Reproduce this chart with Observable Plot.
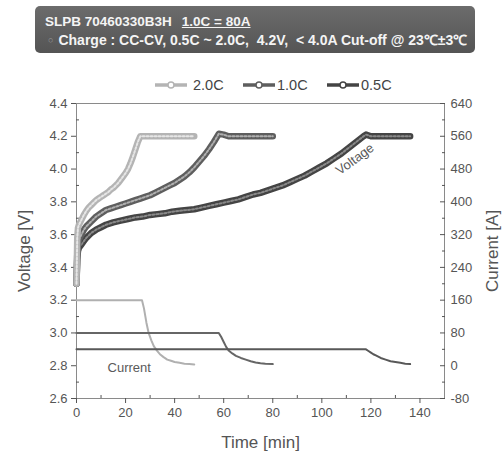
<!DOCTYPE html>
<html><head><meta charset="utf-8">
<script src="https://cdn.jsdelivr.net/npm/d3@7"></script>
<script src="https://cdn.jsdelivr.net/npm/@observablehq/plot@0.6"></script>
<style>
body{margin:0;background:#fff;font-family:"Liberation Sans",Arial,sans-serif;width:502px;height:455px;overflow:hidden;position:relative}
#title{position:absolute;left:35px;top:6px;width:440px;height:47px;border-radius:5px;background:linear-gradient(#6c6c6c,#545454);color:#f4f4f4;box-sizing:border-box;font-weight:bold}
#l1{position:absolute;left:10px;top:8px;font-size:13.5px;white-space:pre}
#l1 u{margin-left:10px}
#l2{position:absolute;left:13px;top:24px;font-size:14px;white-space:pre}
#l2 .b{color:#999;font-size:9px;margin-right:5px;vertical-align:2px}
#legend{position:absolute;top:76px;left:0;width:502px;height:18px;font-size:14.5px;color:#444}
.li{position:absolute;top:0;display:flex;align-items:center;height:18px}
#chart{position:absolute;top:95px;left:0}
</style></head>
<body>
<div id="title"><div id="l1"></div><div id="l2"></div></div>
<div id="legend"></div>
<div id="chart"></div>
<script>
// ---- data ----
const titleModel = "SLPB 70460330B3H";
const titleRate = "1.0C = 80A";
const subtitle = "Charge : CC-CV, 0.5C ~ 2.0C,  4.2V,  < 4.0A Cut-off @ 23℃±3℃";
const seriesNames = ["2.0C", "1.0C", "0.5C"];
const seriesColors = ["#b4b4b4", "#5e5e5e", "#444444"];
const seriesInner = ["#e6e6e6", "#b0b0b0", "#8a8a8a"];
const currentColors = ["#b0b0b0", "#666666", "#585858"];

// voltage curves (time [min], voltage [V])
const t20 = [0,0.3,0.6,1,2,3,4,5,6,7,8,9,10,11,12,13,14,15,16,17,18,19,20,21,22,23,24,25,26,27,30,33,36,39,42,45,48];
const v20 = [3.30,3.58,3.64,3.66,3.69,3.72,3.745,3.765,3.78,3.795,3.81,3.82,3.83,3.84,3.85,3.86,3.875,3.885,3.90,3.915,3.935,3.955,3.975,4.00,4.035,4.075,4.12,4.165,4.20,4.20,4.20,4.20,4.20,4.20,4.20,4.20,4.20];
const t10 = [0,0.3,0.6,1,2,3,4,6,8,10,12,14,16,18,20,22,24,26,28,30,32,34,36,38,40,42,44,46,48,50,52,54,56,58,60,62,65,68,71,74,77,80];
const v10 = [3.30,3.48,3.54,3.57,3.60,3.63,3.65,3.68,3.71,3.73,3.75,3.76,3.77,3.78,3.79,3.80,3.81,3.82,3.83,3.84,3.855,3.87,3.885,3.90,3.915,3.935,3.955,3.98,4.01,4.045,4.08,4.12,4.165,4.215,4.21,4.20,4.20,4.20,4.20,4.20,4.20,4.20];
const t05 = [0,0.3,0.6,1,2,3,4,6,8,10,12,15,18,21,24,27,30,33,36,39,42,45,48,51,54,57,60,63,66,69,72,75,78,81,84,87,90,93,96,99,102,105,108,111,114,117,118,120,124,128,132,136];
const v05 = [3.30,3.45,3.50,3.52,3.54,3.56,3.58,3.61,3.63,3.645,3.66,3.675,3.685,3.695,3.705,3.71,3.72,3.725,3.73,3.74,3.745,3.75,3.755,3.765,3.775,3.785,3.795,3.805,3.815,3.83,3.845,3.855,3.87,3.885,3.90,3.92,3.94,3.96,3.985,4.01,4.035,4.065,4.095,4.13,4.165,4.20,4.21,4.20,4.20,4.20,4.20,4.20];

// current curves (time [min], current [A])
const tc20 = [0,26.7,27.5,28.5,29.4,30.5,31.5,32.8,34,35.5,37,38.5,40,42,44,46,48];
const ic20 = [160,160,140,105,80,62,48,37,28,21,15,12,9,7,5,4,3];
const tc10 = [0,58,59,60,61,62,63.5,65,67,69,71,73,75,77,80];
const ic10 = [80,80,70,58,46,37,30,24,19,15,11,8,6,5,4];
const tc05 = [0,118,119,120,121,122,123,124,126,128,130,132,134,136];
const ic05 = [40,40,36,32,28,25,22,19,15,11,9,7,5,4];

// axes
const xTicks = [0,20,40,60,80,100,120,140];
const xMinor = [10,30,50,70,90,110,130];
const yTicks = [2.6,2.8,3.0,3.2,3.4,3.6,3.8,4.0,4.2,4.4];
const yMinor = [2.7,2.9,3.1,3.3,3.5,3.7,3.9,4.1,4.3];
const iTicks = [-80,0,80,160,240,320,400,480,560,640];
const iMinor = [-40,40,120,200,280,360,440,520,600];
const xLabel = "Time [min]", yLabel = "Voltage [V]", y2Label = "Current [A]";

// annotations
const annText = ["Voltage", "Current"];
const annT = [113.5, 21.5];
const annV = [4.06, 2.79];
const annRotate = [-36, 0];

// current [A] -> voltage scale (0 A at 2.8 V, 400 A per V)
const toV = a => 2.8 + a / 400;
const toA = v => Math.round((v - 2.8) * 400);

// ---- build ----
document.getElementById("l1").innerHTML = titleModel + "<u>" + titleRate + "</u>";
document.getElementById("l2").innerHTML = '<span class="b">○</span>' + subtitle;

const legendX = [155, 243, 327];
const leg = document.getElementById("legend");
seriesNames.forEach((n, i) => {
  const d = document.createElement("div");
  d.className = "li";
  d.style.left = legendX[i] + "px";
  d.innerHTML = `<svg width="34" height="18"><line x1="0" y1="9" x2="32" y2="9" stroke="${seriesColors[i]}" stroke-width="3.5"/><circle cx="16" cy="9" r="3" fill="#fff" stroke="${seriesColors[i]}" stroke-width="1.5"/></svg><span style="margin-left:${i==0?4:0}px">${n}</span>`;
  leg.appendChild(d);
});

const volt = [[t20, v20], [t10, v10], [t05, v05]].map(([t, v], k) => t.map((x, j) => ({t: x, v: v[j], s: seriesNames[k]})));
const curr = [[tc20, ic20], [tc10, ic10], [tc05, ic05]].map(([t, a], k) => t.map((x, j) => ({t: x, v: toV(a[j]), s: seriesNames[k]})));
const ann = annText.map((s, i) => ({s, t: annT[i], v: annV[i], r: annRotate[i]}));

const marks = [
  Plot.frame({stroke: "#8a8a8a"}),
  Plot.axisX({ticks: xTicks, tickSize: 5, tickPadding: 4, fontSize: 13, label: null}),
  Plot.axisX({ticks: [], tickSize: 0, fontSize: 17, label: xLabel, labelAnchor: "center", labelArrow: "none", labelOffset: 49}),
  Plot.axisX({ticks: xMinor, tickSize: -3, tickFormat: () => "", label: null}),
  Plot.axisY({anchor: "left", ticks: yTicks, tickSize: 5, tickPadding: 4, tickFormat: d => d.toFixed(1), fontSize: 13, label: null}),
  Plot.axisY({anchor: "left", ticks: [], tickSize: 0, fontSize: 17, label: yLabel, labelAnchor: "center", labelArrow: "none", labelOffset: 59}),
  Plot.axisY({anchor: "left", ticks: yMinor, tickSize: -3, tickFormat: () => "", label: null}),
  Plot.axisY({anchor: "right", ticks: iTicks.map(toV), tickSize: -5, tickPadding: 11, tickFormat: toA, fontSize: 13, label: null}),
  Plot.axisY({anchor: "right", ticks: [], tickSize: 0, fontSize: 17, label: y2Label, labelAnchor: "center", labelArrow: "none", labelOffset: 53}),
  Plot.axisY({anchor: "right", ticks: iMinor.map(toV), tickSize: -3, tickFormat: () => "", label: null})
];
curr.forEach((d, k) => marks.push(Plot.line(d, {x: "t", y: "v", stroke: currentColors[k], strokeWidth: 2})));
[2, 1, 0].forEach(k => {
  marks.push(Plot.line(volt[k], {x: "t", y: "v", stroke: seriesColors[k], strokeWidth: 6.5}));
  marks.push(Plot.line(volt[k], {x: "t", y: "v", stroke: seriesInner[k], strokeWidth: 2, strokeDasharray: "2,2"}));
});
marks.push(Plot.text(ann, {x: "t", y: "v", text: "s", rotate: "r", fontSize: 13, fill: "#5a5a5a", fontWeight: d => d.s === "Voltage" ? "bold" : "normal"}));

const chart = Plot.plot({
  width: 502, height: 360,
  marginTop: 8, marginBottom: 57, marginLeft: 76, marginRight: 58,
  x: {domain: [0, 150]},
  y: {domain: [2.6, 4.4]},
  style: {fontFamily: '"Liberation Sans", Arial, sans-serif', color: "#555", background: "transparent"},
  marks
});
document.getElementById("chart").appendChild(chart);
</script>
</body></html>
